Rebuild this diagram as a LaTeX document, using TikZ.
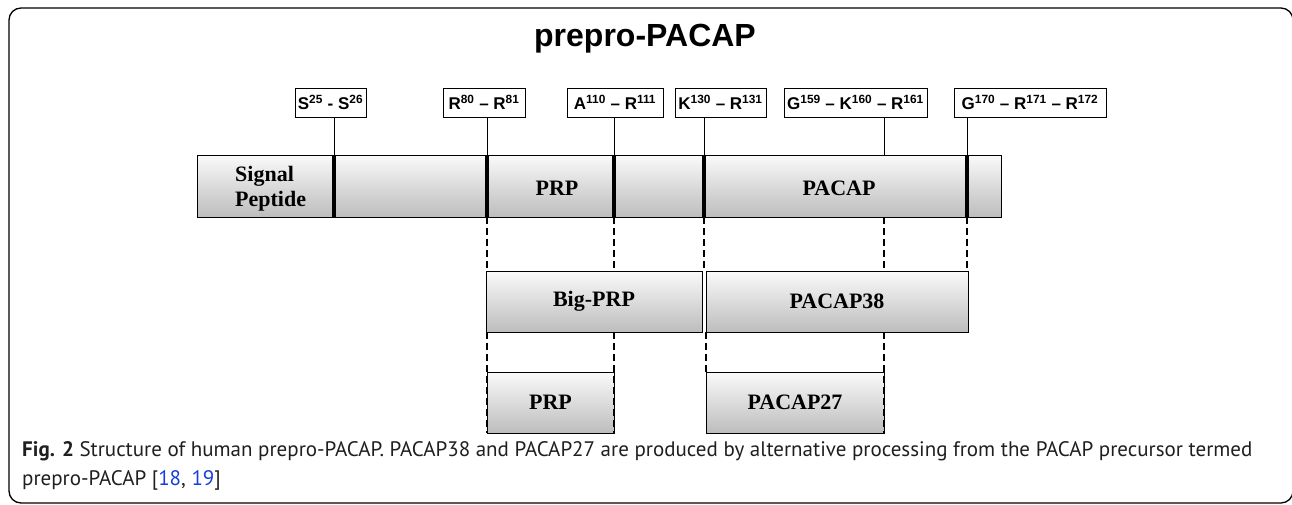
\documentclass[tikz,border=0pt]{standalone}
\usepackage{fontspec}
\setmainfont{Liberation Serif}
\setsansfont{Liberation Sans}
\newfontfamily\capfont{PT Sans}
\definecolor{reflink}{RGB}{25,60,225}

\begin{document}
\begin{tikzpicture}[x=1pt,y=-1pt,
	site/.style={draw,line width=0.8pt,fill=white,minimum height=29pt,inner sep=0pt,
		font=\sffamily\bfseries\fontsize{17}{17}\selectfont},
	chain/.style={draw,line width=0.9pt,top color=gray!4,bottom color=gray!52,inner sep=0pt,
		minimum height=61pt,font=\rmfamily\bfseries\fontsize{22}{25}\selectfont},
	seglabel/.style={inner sep=0pt,font=\rmfamily\bfseries\fontsize{22}{25}\selectfont},
	divider/.style={line width=4pt},
	tick/.style={line width=1pt},
	cleave/.style={line width=2pt,dash pattern=on 7pt off 4pt}]
	\useasboundingbox (0,0) rectangle (1292,504);
	\draw[line width=1.3pt,rounded corners=12pt] (9,8) rectangle (1293,503);
	\node[anchor=base,font=\sffamily\bfseries\fontsize{32}{32}\selectfont] (title) at (645,46) {prepro-PACAP};
	% precursor chain
	\node[chain,minimum width=804pt,minimum height=62pt] (pre) at (599,186) {};
	\node[seglabel,align=left,anchor=west] (sig) at (235,189) {Signal\\Peptide};
	\node[seglabel] (prp) at (557,188) {PRP};
	\node[seglabel] (pacap) at (839,188) {PACAP};
	% cleavage sites
	\foreach \n/\x in {1/334,2/487,3/614,4/704,5/884,6/967}
		\coordinate (k\n) at (\x,0);
	\node[site,minimum width=71pt] (s1) at (330.5,102.5) {S\textsuperscript{25} - S\textsuperscript{26}};
	\node[site,minimum width=82pt] (s2) at (484,102.5) {R\textsuperscript{80} -- R\textsuperscript{81}};
	\node[site,minimum width=96pt] (s3) at (615,102.5) {A\textsuperscript{110} -- R\textsuperscript{111}};
	\node[site,minimum width=91pt] (s4) at (720.5,102.5) {K\textsuperscript{130} -- R\textsuperscript{131}};
	\node[site,minimum width=143pt] (s5) at (855.5,102.5) {G\textsuperscript{159} -- K\textsuperscript{160} -- R\textsuperscript{161}};
	\node[site,minimum width=152pt] (s6) at (1030,102.5) {G\textsuperscript{170} -- R\textsuperscript{171} -- R\textsuperscript{172}};
	\foreach \n in {1,...,6}
		\draw[tick] (s\n.south -| k\n) -- (pre.north -| k\n);
	\foreach \n in {1,2,3,4,6}
		\draw[divider] (pre.north -| k\n) -- (pre.south -| k\n);
	% processed peptides
	\node[chain,minimum width=216pt] (bigprp) at (594,301.5) {Big-PRP};
	\node[chain,minimum width=262pt] (p38) at (837,301.5) {PACAP38};
	\node[chain,minimum width=127pt] (prp2) at (550.5,402.5) {PRP};
	\node[chain,minimum width=178pt] (p27) at (795,402.5) {PACAP27};
	\foreach \n in {2,3,4,5,6}
		\draw[cleave] (pre.south -| k\n) -- (bigprp.north -| k\n);
	\foreach \n in {2,3}
		\draw[cleave] (bigprp.south -| k\n) -- (prp2.south -| k\n);
	\draw[cleave] (p38.south -| p27.west) -- (p27.north west);
	\draw[cleave] (p38.south -| k5) -- (p27.south -| k5);
	% caption
	\node[anchor=base west,inner sep=0pt,text=black!88,font=\capfont\fontsize{21}{29}\selectfont] (cap1) at (22,456)
		{\textbf{Fig. 2} Structure of human prepro-PACAP. PACAP38 and PACAP27 are produced by alternative processing from the PACAP precursor termed};
	\node[anchor=base west,inner sep=0pt,text=black!88,font=\capfont\fontsize{21}{29}\selectfont] (cap2) at (22,485)
		{prepro-PACAP [{\color{reflink}18}, {\color{reflink}19}]};
\end{tikzpicture}
\end{document}
